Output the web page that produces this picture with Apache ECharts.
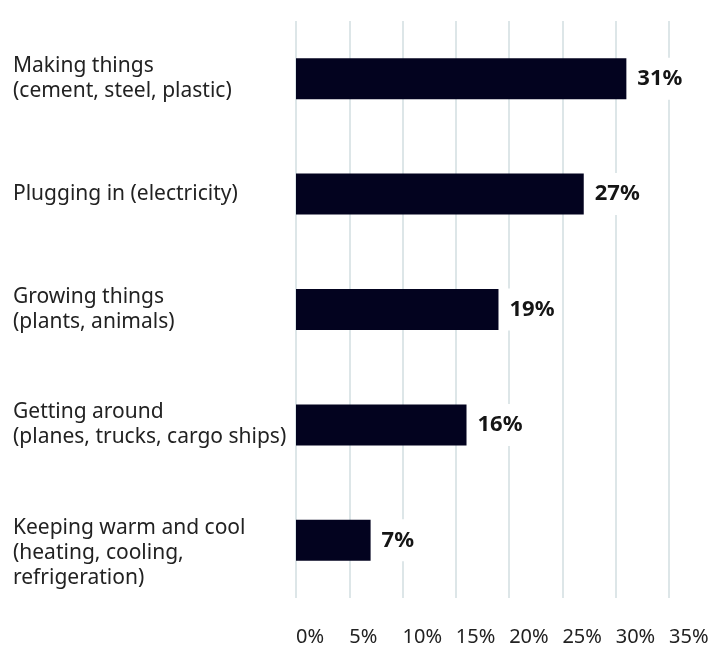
<!DOCTYPE html>
<html>
<head>
<meta charset="utf-8">
<script src="https://cdn.jsdelivr.net/npm/echarts@6/dist/echarts.min.js"></script>
<style>
html,body{margin:0;padding:0;background:#fff;}
#c{width:722px;height:646px;}
</style>
</head>
<body>
<div id="c"></div>
<script>
var categories = [
  "Making things\n(cement, steel, plastic)",
  "Plugging in (electricity)",
  "Growing things\n(plants, animals)",
  "Getting around\n(planes, trucks, cargo ships)",
  "Keeping warm and cool\n(heating, cooling,\nrefrigeration)"
];
var values = [31, 27, 19, 16, 7];
var xTicks = [0, 5, 10, 15, 20, 25, 30, 35];

var font = "'Noto Sans', 'Open Sans', sans-serif";

var chart = echarts.init(document.getElementById('c'));
chart.setOption({
  animation: false,
  grid: { left: 296, right: 53, top: 21, bottom: 48, containLabel: false, outerBoundsMode: 'none' },
  xAxis: {
    type: 'value',
    min: xTicks[0],
    max: xTicks[xTicks.length - 1],
    interval: 5,
    axisLine: { show: false },
    axisTick: { show: false },
    splitLine: { show: true, lineStyle: { color: '#dde6e8', width: 2 } },
    axisLabel: {
      formatter: '{value}%',
      align: 'left',
      margin: 29,
      color: '#222',
      fontSize: 20,
      fontFamily: font
    }
  },
  yAxis: {
    type: 'category',
    inverse: true,
    data: categories,
    axisLine: { show: false },
    axisTick: { show: false },
    axisLabel: {
      align: 'left',
      margin: 283,
      color: '#222',
      fontSize: 21,
      lineHeight: 25,
      fontFamily: font,
      formatter: function (v) {
        // top-align labels of three lines with the two-line ones
        return v.split('\n').length > 2 ? '\n' + v : v;
      }
    }
  },
  series: [{
    type: 'bar',
    data: values,
    barWidth: 41,
    itemStyle: { color: '#03031f' },
    label: {
      show: true,
      position: 'right',
      distance: 7,
      formatter: '{c}%',
      fontWeight: 'bold',
      fontSize: 22,
      color: '#151515',
      fontFamily: font,
      backgroundColor: '#fff',
      padding: [10, 4]
    }
  }]
});
</script>
</body>
</html>
